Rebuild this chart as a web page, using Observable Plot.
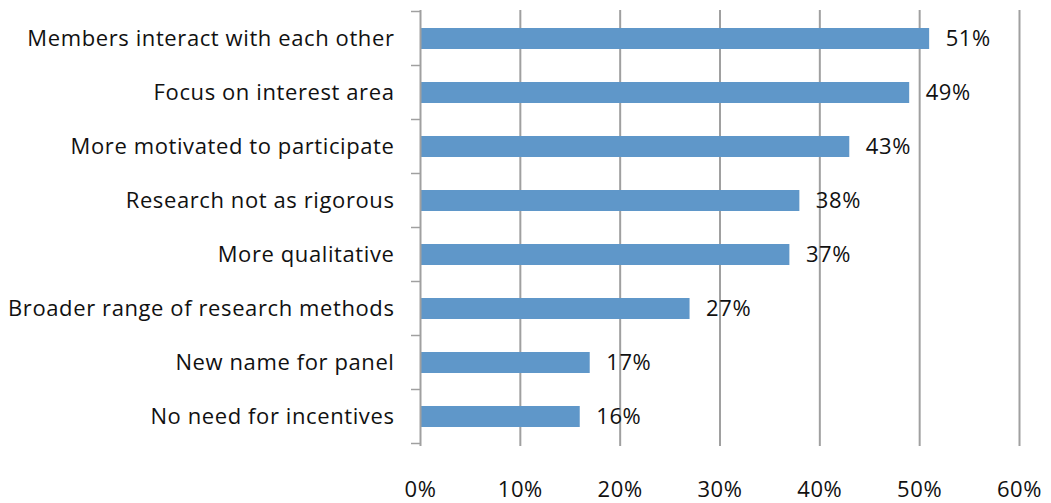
<!DOCTYPE html>
<html>
<head>
<meta charset="utf-8">
<script src="https://cdn.jsdelivr.net/npm/d3@7"></script>
<script src="https://cdn.jsdelivr.net/npm/@observablehq/plot@0.6"></script>
<style>
  body { margin: 0; background: #fff; }
  #chart svg { font-family: "Open Sans", Lato, sans-serif; letter-spacing: 0.6px; }
</style>
</head>
<body>
<div id="chart"></div>
<script>
const categories = [
  "Members interact with each other",
  "Focus on interest area",
  "More motivated to participate",
  "Research not as rigorous",
  "More qualitative",
  "Broader range of research methods",
  "New name for panel",
  "No need for incentives"
];
const values = [51, 49, 43, 38, 37, 27, 17, 16];
const xTicks = [0, 10, 20, 30, 40, 50, 60];

const data = categories.map((c, i) => ({category: c, value: values[i]}));

const bandTicks = (index, scales, channels, dimensions) => {
  const y = scales.y;
  const step = y.step();
  const x0 = dimensions.marginLeft;
  const g = d3.create("svg:g").attr("stroke", "#a0a0a0").attr("stroke-width", 1.5);
  const edges = categories.map(c => y(c) - (step - y.bandwidth()) / 2);
  edges.push(edges[edges.length - 1] + step);
  for (const e of edges) {
    g.append("line").attr("x1", x0 - 9).attr("x2", x0).attr("y1", e).attr("y2", e);
  }
  return g.node();
};

const chart = Plot.plot({
  width: 1051,
  height: 503,
  marginLeft: 420,
  marginRight: 32,
  marginTop: 10,
  marginBottom: 57,
  style: {fontSize: "22px", color: "#111", background: "#fff"},
  x: {domain: [0, 60], ticks: xTicks, tickFormat: d => d + "%", tickSize: 0, tickPadding: 35, label: null},
  y: {domain: categories, paddingInner: 0.61, paddingOuter: 0.305, label: null, tickSize: 0, tickPadding: 26},
  marks: [
    Plot.ruleX(xTicks.filter(d => d > 0), {stroke: "#a0a0a0", strokeWidth: 2}),
    Plot.barX(data, {x: "value", y: "category", fill: "#5f97c9"}),
    Plot.ruleX([0], {stroke: "#a0a0a0", strokeWidth: 2}),
    bandTicks,
    Plot.text(data, {x: "value", y: "category", text: d => d.value + "%", textAnchor: "start", dx: 16, fill: "#111", fontSize: 22})
  ]
});
document.getElementById("chart").appendChild(chart);
</script>
</body>
</html>
